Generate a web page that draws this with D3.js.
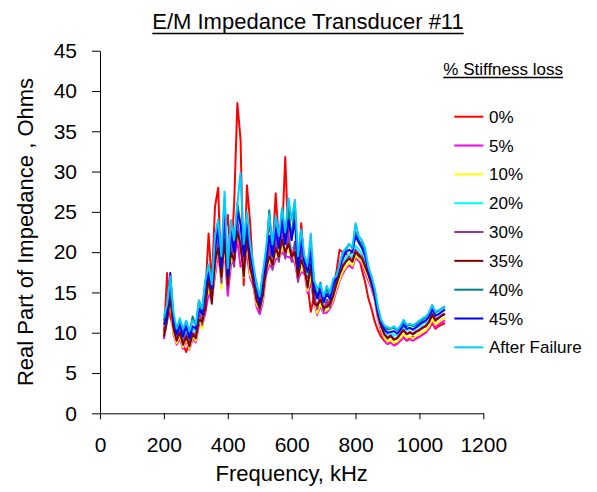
<!DOCTYPE html>
<html>
<head>
<meta charset="utf-8">
<script src="https://cdn.jsdelivr.net/npm/d3@7"></script>
<style>
  html, body { margin: 0; padding: 0; background: #fff; }
  svg { display: block; font-family: Arial, "Liberation Sans", sans-serif; }
</style>
</head>
<body>
<svg id="chart" width="597" height="492"></svg>
<script>
// ---------------- DATA ----------------
const title = "E/M Impedance Transducer #11";
const xTitle = "Frequency, kHz";
const yTitle = "Real Part of Impedance , Ohms";
const legendTitle = "% Stiffness loss";
const xTicks = [0, 200, 400, 600, 800, 1000, 1200];
const yTicks = [0, 5, 10, 15, 20, 25, 30, 35, 40, 45];

const freq = [200,210,220,230,240,250,260,270,280,290,300,310,320,330,340,350,360,370,380,390,
  400,410,420,430,440,450,460,470,480,490,500,510,520,530,540,550,560,570,580,590,
  600,610,620,630,640,650,660,670,680,690,700,710,720,730,740,750,760,770,780,790,
  800,810,820,830,840,850,860,870,880,890,900,910,920,930,940,950,960,970,980,990,
  1000,1010,1020,1030,1040,1050,1060,1070,1080];

const seriesNames = ["0%", "5%", "10%", "20%", "30%", "35%", "40%", "45%", "After Failure"];
const seriesColors = ["#FF0000", "#FF00FF", "#FFFF00", "#00FFFF", "#993399", "#800000", "#008080", "#0000FF", "#00CCFF"];

const loss0 = [9.5,17.4,12.0,10.5,9.0,9.5,8.5,7.6,9.0,9.5,10.0,13.0,11.0,15.0,22.3,16.0,25.6,28.0,16.0,22.0,
  24.6,19.0,26.0,38.5,34.0,15.9,28.3,23.7,17.0,14.5,12.8,16.0,19.5,24.2,20.0,27.3,21.0,22.0,31.8,21.0,
  20.0,19.5,16.5,23.6,18.0,16.0,12.6,14.5,12.5,14.0,13.0,13.5,14.0,15.5,17.5,20.3,20.0,19.8,19.5,20.2,
  19.6,19.5,17.8,16.3,14.3,13.0,11.4,10.3,9.5,9.0,8.6,8.8,8.5,8.8,9.0,9.5,9.0,9.3,9.5,9.3,
  9.5,9.8,10.0,10.5,11.2,10.5,10.8,11.0,11.2];
const loss5 = [9.2,11.5,14.2,9.8,8.5,9.3,8.0,9.0,7.9,9.2,8.8,11.0,10.8,12.5,14.8,14.2,17.0,19.8,16.5,20.2,
  14.6,18.4,19.0,21.5,18.2,18.5,19.6,16.8,15.8,13.2,12.3,13.8,17.2,18.4,18.0,19.1,19.3,20.0,19.5,19.4,
  19.2,18.6,16.6,17.5,17.4,14.9,16.2,13.8,12.2,13.3,12.4,12.5,13.0,13.8,15.2,16.4,17.3,18.0,18.4,18.0,
  19.3,18.9,18.5,17.5,16.5,15.5,14.1,11.7,10.2,9.1,8.6,8.8,8.4,8.6,9.0,9.5,9.1,9.2,9.0,9.3,
  9.5,9.8,10.0,10.5,11.4,10.7,11.0,11.3,11.5];
const loss10 = [9.5,11.8,14.0,10.0,8.7,9.6,8.2,9.3,8.0,9.5,9.0,11.8,10.5,13.8,15.2,14.6,17.6,21.2,15.5,20.8,
  16.0,19.2,18.8,22.4,20.8,16.9,21.5,17.2,16.2,13.6,12.8,14.2,17.6,19.0,18.4,19.8,19.2,20.6,19.8,20.2,
  19.4,19.2,16.8,18.2,17.8,15.2,17.0,14.2,12.4,13.6,12.6,12.8,13.1,14.1,15.5,16.6,17.6,18.2,18.7,18.3,
  19.6,19.2,18.8,17.8,16.8,15.8,14.4,12.0,10.5,9.4,8.9,9.1,8.7,8.9,9.3,9.8,9.4,9.5,9.3,9.6,
  9.8,10.1,10.3,10.8,11.7,11.0,11.3,11.6,11.8];
const loss20 = [10.8,12.3,14.8,11.3,9.6,10.8,9.3,10.3,9.1,10.5,10.1,12.2,12.4,13.6,18.0,14.2,20.0,21.5,18.0,22.5,
  17.2,20.5,20.2,23.5,22.3,18.0,23.0,18.6,17.5,14.8,13.8,15.2,19.0,20.2,19.5,21.0,20.6,22.0,21.0,21.6,
  20.5,20.6,18.0,19.6,19.0,16.2,19.4,14.4,14.2,14.9,13.7,14.0,14.2,15.3,16.8,17.8,18.8,19.3,19.8,19.3,
  20.8,20.3,19.8,18.8,17.8,16.8,15.3,12.8,11.3,10.3,9.8,10.1,9.6,9.8,10.3,10.8,10.3,10.5,10.3,10.6,
  10.8,11.1,11.3,11.8,12.8,12.1,12.3,12.6,12.8];
const loss30 = [10.2,12.0,15.0,10.8,9.3,10.3,8.8,9.8,8.6,10.0,9.6,12.6,11.0,14.2,16.2,15.0,18.2,22.0,16.2,23.0,
  15.3,21.4,18.2,24.0,20.2,18.6,21.2,19.4,15.8,15.2,12.6,15.8,17.3,20.8,17.8,21.8,18.8,22.8,19.2,22.3,
  18.8,21.3,16.3,20.3,17.3,16.8,17.8,14.8,12.9,15.2,12.6,14.1,13.1,14.8,16.3,17.4,18.4,18.9,19.4,18.9,
  20.3,19.8,19.4,18.4,17.4,16.3,14.8,12.4,10.9,9.9,9.4,9.7,9.2,9.4,9.9,10.4,9.9,10.1,9.9,10.2,
  10.4,10.7,10.9,11.4,12.4,11.7,11.9,12.2,12.4];
const loss35 = [9.5,11.5,14.5,10.5,9.0,10.0,8.5,9.5,8.3,9.8,9.3,11.6,11.4,13.0,17.0,13.6,19.0,20.5,17.0,21.5,
  16.0,20.0,19.0,22.5,21.0,17.0,22.0,18.0,16.5,14.0,13.1,14.6,18.0,19.5,18.5,20.5,19.5,21.5,20.0,21.0,
  19.5,20.0,17.0,19.0,18.0,15.6,18.5,13.6,13.4,14.1,13.1,13.2,13.6,14.5,16.0,17.2,18.2,18.8,19.2,18.8,
  20.0,19.6,19.2,18.2,17.2,16.0,14.5,12.2,10.8,9.8,9.3,9.6,9.1,9.3,9.8,10.3,9.8,10.0,9.8,10.1,
  10.3,10.6,10.8,11.3,12.2,11.5,11.8,12.1,12.3];
const loss40 = [11.5,12.8,15.8,12.0,10.2,11.3,10.0,11.2,9.8,12.0,10.8,14.0,12.5,16.5,17.5,16.5,20.5,24.0,18.0,26.5,
  17.0,23.5,20.0,26.0,23.5,20.5,23.5,21.0,17.5,16.2,13.6,17.5,19.0,25.2,19.5,24.0,20.5,25.0,21.0,25.5,
  21.5,26.0,18.0,22.5,18.5,18.5,20.5,16.5,14.4,16.2,13.9,15.6,14.3,16.2,17.0,18.3,19.8,20.3,21.0,20.5,
  22.5,21.5,21.0,20.0,18.0,16.7,15.2,13.0,11.4,10.7,10.4,10.5,10.6,10.3,10.6,11.3,10.8,11.0,10.8,11.0,
  11.3,11.6,11.9,12.4,13.4,12.5,12.7,13.0,13.2];
const loss45 = [11.0,12.0,17.4,11.5,9.8,11.0,9.5,10.8,9.3,10.8,10.5,13.0,12.3,15.5,17.5,15.5,20.5,23.0,18.0,25.0,
  17.0,22.5,20.0,25.0,23.5,19.5,23.5,20.0,17.5,15.5,13.5,16.5,19.0,22.0,19.5,23.0,20.5,24.0,21.0,24.0,
  21.5,24.0,18.0,21.5,18.8,17.5,20.0,15.5,14.3,15.5,13.8,14.8,14.2,15.8,16.8,18.0,19.2,20.0,20.3,20.0,
  22.0,21.2,20.5,19.5,17.6,16.3,14.8,12.6,11.2,10.4,10.0,10.1,10.2,9.9,10.3,11.0,10.5,10.6,10.4,10.7,
  11.0,11.3,11.5,12.0,12.9,12.1,12.3,12.6,12.9];
const afterFailure = [12.0,13.5,17.0,12.5,10.5,11.8,10.5,11.5,10.2,11.5,11.0,14.0,13.0,16.5,18.5,16.0,22.0,24.0,19.5,27.5,
  18.0,24.0,21.5,26.0,29.9,21.0,25.0,21.0,18.5,16.0,14.5,17.5,20.5,24.7,21.0,24.5,22.0,25.5,22.5,26.7,
  24.0,26.5,19.5,22.8,19.5,18.5,22.3,16.5,15.5,16.0,14.5,15.8,15.0,16.7,17.0,18.5,20.0,20.5,21.0,20.5,
  23.6,22.0,21.5,20.5,18.2,17.0,15.5,13.2,11.6,10.9,10.7,10.5,10.8,10.4,10.8,11.6,11.0,11.1,10.9,11.2,
  11.5,11.8,12.0,12.5,13.4,12.6,12.8,13.0,13.3];

const seriesValues = [loss0, loss5, loss10, loss20, loss30, loss35, loss40, loss45, afterFailure];

// ---------------- LAYOUT ----------------
const svg = d3.select("#chart");
const plot = { left: 100, right: 483.3, top: 50.7, bottom: 413.3 };
const x = d3.scaleLinear().domain([0, 1200]).range([plot.left, plot.right]);
const y = d3.scaleLinear().domain([0, 45]).range([plot.bottom, plot.top]);

// Axes
const xAxis = d3.axisBottom(x).tickValues(xTicks).tickFormat(d3.format("d"))
  .tickSize(6).tickSizeOuter(0).tickPadding(18);
const yAxis = d3.axisLeft(y).tickValues(yTicks).tickFormat(d3.format("d"))
  .tickSize(8).tickSizeOuter(0).tickPadding(15);

const gx = svg.append("g").attr("transform", `translate(0,${plot.bottom})`).call(xAxis);
const gy = svg.append("g").attr("transform", `translate(${plot.left},0)`).call(yAxis);
[gx, gy].forEach(g => {
  g.selectAll("path.domain").attr("stroke", "#000").attr("stroke-width", 1);
  g.selectAll(".tick line").attr("stroke", "#000").attr("stroke-width", 1);
  g.selectAll(".tick text").attr("fill", "#000").style("font-size", "21px")
    .style("font-family", "Arial, 'Liberation Sans', sans-serif");
});
gx.selectAll(".tick text").attr("dy", "0.71em");

// Lines
const line = d3.line()
  .x((d, i) => x(freq[i]))
  .y(d => y(d));

svg.append("g").selectAll("path.series")
  .data(seriesValues)
  .join("path")
  .attr("class", "series")
  .attr("fill", "none")
  .attr("stroke", (d, i) => seriesColors[i])
  .attr("stroke-width", 2)
  .attr("stroke-linejoin", "round")
  .attr("d", d => line(d));

// Title
const tTitle = svg.append("text")
  .attr("x", 308).attr("y", 29)
  .attr("text-anchor", "middle")
  .style("font-size", "22px")
  .attr("fill", "#000")
  .text(title);
const tb = tTitle.node().getBBox();
svg.append("line")
  .attr("x1", tb.x).attr("x2", tb.x + tb.width)
  .attr("y1", 33.5).attr("y2", 33.5)
  .attr("stroke", "#000").attr("stroke-width", 1.3);

// Axis titles
svg.append("text")
  .attr("x", (plot.left + plot.right) / 2).attr("y", 481)
  .attr("text-anchor", "middle")
  .style("font-size", "22px").attr("fill", "#000")
  .text(xTitle);

svg.append("text")
  .attr("transform", `translate(33,${(plot.top + plot.bottom) / 2}) rotate(-90)`)
  .attr("text-anchor", "middle")
  .style("font-size", "22px").attr("fill", "#000")
  .text(yTitle);

// Legend
const lg = svg.append("g");
const lt = lg.append("text")
  .attr("x", 443.3).attr("y", 75)
  .style("font-size", "17px").attr("fill", "#000")
  .text(legendTitle);
const lb = lt.node().getBBox();
lg.append("line")
  .attr("x1", lb.x).attr("x2", lb.x + lb.width)
  .attr("y1", 77.5).attr("y2", 77.5)
  .attr("stroke", "#000").attr("stroke-width", 1.3);

const items = lg.selectAll("g.item")
  .data(seriesNames)
  .join("g")
  .attr("class", "item")
  .attr("transform", (d, i) => `translate(0,${116.7 + i * 28.83})`);
items.append("line")
  .attr("x1", 454.3).attr("x2", 483.3)
  .attr("y1", 0).attr("y2", 0)
  .attr("stroke", (d, i) => seriesColors[i])
  .attr("stroke-width", 2);
items.append("text")
  .attr("x", 489).attr("y", 6)
  .style("font-size", "17px").attr("fill", "#000")
  .text(d => d);
</script>
</body>
</html>
